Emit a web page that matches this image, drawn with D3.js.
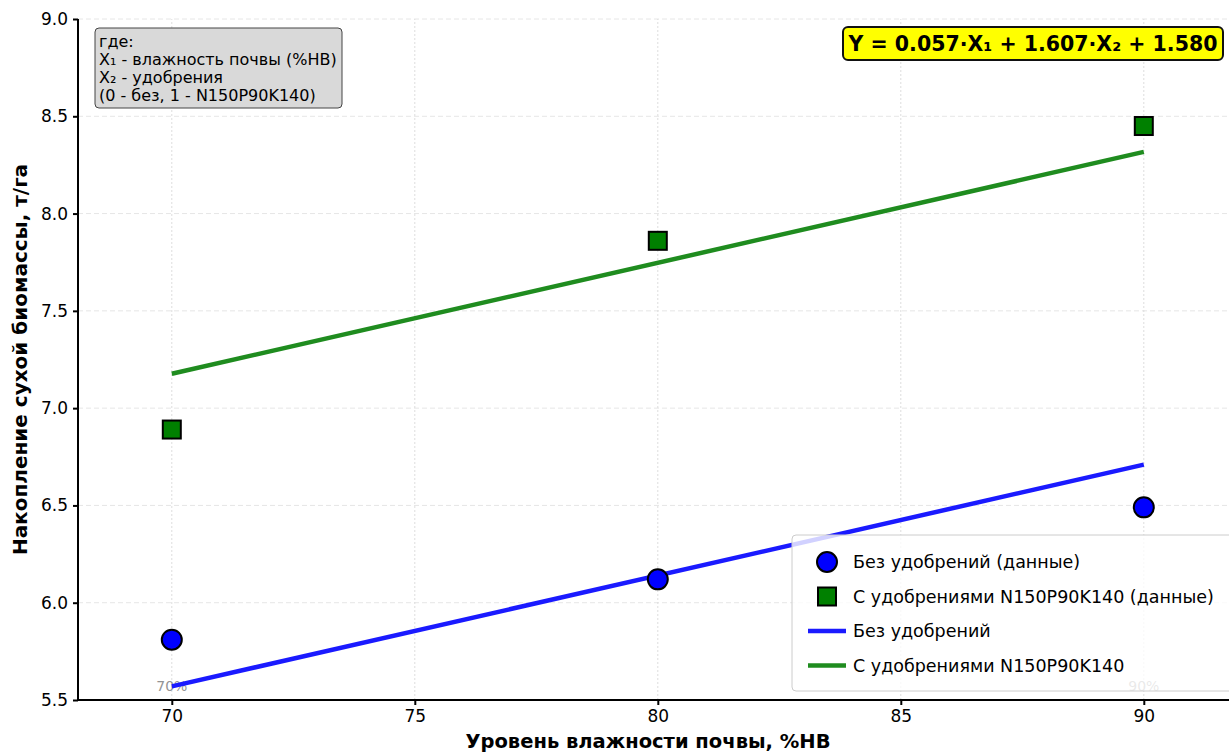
<!DOCTYPE html>
<html>
<head>
<meta charset="utf-8">
<script src="https://cdn.jsdelivr.net/npm/d3@7"></script>
<style>
  body { margin: 0; background: #fff; }
  svg { font-family: "DejaVu Sans", sans-serif; display: block; }
</style>
</head>
<body>
<div id="chart"></div>
<script>
// moisture levels, %НВ
const moisture = [70, 80, 90];
// measured dry biomass, t/ha
const noFert = [5.81, 6.12, 6.49];
const withFert = [6.89, 7.86, 8.45];
// regression line end points (X1 = 70 and 90)
const fitX = [70, 90];
const fitNoFert = [5.570, 6.710];
const fitWithFert = [7.177, 8.317];
const xTicks = [70, 75, 80, 85, 90];
const yTicks = [5.5, 6.0, 6.5, 7.0, 7.5, 8.0, 8.5, 9.0];
const pctLabels = [{ x: 70, text: '70%' }, { x: 90, text: '90%' }];
const notes = ['где:', 'X\u2081 - влажность почвы (%НВ)', 'X\u2082 - удобрения', '(0 - без, 1 - N150P90K140)'];
const equation = 'Y = 0.057\u00b7X\u2081 + 1.607\u00b7X\u2082 + 1.580';

const W = 1229, H = 753;
const margin = { top: 19, left: 78, bottom: 53 };

const svg = d3.select('#chart').append('svg')
  .attr('width', W).attr('height', H);

const x = d3.scaleLinear().domain([68.07, 92]).range([margin.left, 1241]);
const y = d3.scaleLinear().domain([5.5, 9.0]).range([H - margin.bottom, margin.top]);
const plotRight = x(92);

// grid
svg.append('g').selectAll('line').data(yTicks).enter().append('line')
  .attr('x1', margin.left).attr('x2', plotRight)
  .attr('y1', d => y(d)).attr('y2', d => y(d))
  .attr('stroke', '#e6e6e6').attr('stroke-width', 1).attr('stroke-dasharray', '5,3');
svg.append('g').selectAll('line').data(xTicks).enter().append('line')
  .attr('x1', d => x(d)).attr('x2', d => x(d))
  .attr('y1', y(5.5)).attr('y2', y(9.0))
  .attr('stroke', '#dddddd').attr('stroke-width', 1).attr('stroke-dasharray', '2,2');

// percent labels
svg.append('g').selectAll('text').data(pctLabels).enter().append('text')
  .attr('x', d => x(d.x)).attr('y', y(5.5) - 9)
  .attr('text-anchor', 'middle').attr('font-size', 14)
  .attr('fill', '#888').attr('opacity', 0.9)
  .text(d => d.text);

// regression lines
const line = d3.line().x(d => x(d[0])).y(d => y(d[1]));
svg.append('path').datum(d3.zip(fitX, fitNoFert))
  .attr('d', line).attr('fill', 'none').attr('stroke', '#1a1aff').attr('stroke-width', 4.5);
svg.append('path').datum(d3.zip(fitX, fitWithFert))
  .attr('d', line).attr('fill', 'none').attr('stroke', '#1f8c1f').attr('stroke-width', 4.5);

// data points
svg.append('g').selectAll('circle').data(d3.zip(moisture, noFert)).enter().append('circle')
  .attr('cx', d => x(d[0])).attr('cy', d => y(d[1])).attr('r', 10)
  .attr('fill', '#0000ff').attr('stroke', '#000').attr('stroke-width', 2);
svg.append('g').selectAll('rect').data(d3.zip(moisture, withFert)).enter().append('rect')
  .attr('x', d => x(d[0]) - 9).attr('y', d => y(d[1]) - 9)
  .attr('width', 18).attr('height', 18)
  .attr('fill', '#008000').attr('stroke', '#000').attr('stroke-width', 2);

// axes
const xAxis = svg.append('g').attr('transform', `translate(0,${y(5.5)})`)
  .call(d3.axisBottom(x).tickValues(xTicks).tickFormat(d3.format('d')).tickSize(5).tickPadding(5));
const yAxis = svg.append('g').attr('transform', `translate(${margin.left},0)`)
  .call(d3.axisLeft(y).tickValues(yTicks).tickFormat(d3.format('.1f')).tickSize(5).tickPadding(5));
[xAxis, yAxis].forEach(g => {
  g.select('.domain').attr('stroke', '#000').attr('stroke-width', 2);
  g.selectAll('.tick line').attr('stroke', '#000').attr('stroke-width', 2);
  g.selectAll('.tick text').attr('fill', '#000').attr('font-size', 17)
    .attr('font-family', '"DejaVu Sans", sans-serif');
});
xAxis.select('.domain').attr('d', `M${margin.left},0H${plotRight}`);
yAxis.select('.domain').attr('d', `M0,${y(5.5)}V${y(9.0)}`);

// axis titles
svg.append('text').attr('x', 648).attr('y', 748)
  .attr('text-anchor', 'middle').attr('font-size', 19.5).attr('font-weight', 'bold')
  .text('Уровень влажности почвы, %НВ');
svg.append('text').attr('transform', `translate(27,${(y(5.5) + y(9.0)) / 2}) rotate(-90)`)
  .attr('text-anchor', 'middle').attr('font-size', 20).attr('font-weight', 'bold')
  .text('Накопление сухой биомассы, т/га');

// notes box
svg.append('rect').attr('x', 95).attr('y', 28).attr('width', 247).attr('height', 80).attr('rx', 4)
  .attr('fill', '#d9d9d9').attr('stroke', '#444').attr('stroke-width', 1);
svg.append('g').selectAll('text').data(notes).enter().append('text')
  .attr('x', 99).attr('y', (d, i) => 47 + i * 18)
  .attr('font-size', 16).attr('fill', '#000').text(d => d);

// equation box
svg.append('rect').attr('x', 843).attr('y', 27).attr('width', 380).attr('height', 33).attr('rx', 5)
  .attr('fill', '#ffff00').attr('stroke', '#111').attr('stroke-width', 2);
svg.append('text').attr('x', 1033).attr('y', 51).attr('text-anchor', 'middle')
  .attr('font-size', 20.5).attr('font-weight', 'bold').text(equation);

// legend
const leg = svg.append('g');
leg.append('rect').attr('x', 792).attr('y', 535).attr('width', 450).attr('height', 156).attr('rx', 4)
  .attr('fill', '#fff').attr('fill-opacity', 0.8).attr('stroke', '#ccc').attr('stroke-width', 1);
const legItems = [
  { type: 'circle', color: '#0000ff', label: 'Без удобрений (данные)' },
  { type: 'square', color: '#008000', label: 'С удобрениями N150P90K140 (данные)' },
  { type: 'line', color: '#1a1aff', label: 'Без удобрений' },
  { type: 'line', color: '#1f8c1f', label: 'С удобрениями N150P90K140' }
];
legItems.forEach((it, i) => {
  const cy = 562 + i * 34.5;
  if (it.type === 'circle') {
    leg.append('circle').attr('cx', 827).attr('cy', cy).attr('r', 10)
      .attr('fill', it.color).attr('stroke', '#000').attr('stroke-width', 2);
  } else if (it.type === 'square') {
    leg.append('rect').attr('x', 818).attr('y', cy - 9).attr('width', 18).attr('height', 18)
      .attr('fill', it.color).attr('stroke', '#000').attr('stroke-width', 2);
  } else {
    leg.append('line').attr('x1', 808).attr('x2', 846).attr('y1', cy).attr('y2', cy)
      .attr('stroke', it.color).attr('stroke-width', 4.5);
  }
  leg.append('text').attr('x', 853).attr('y', cy + 6).attr('font-size', 17.5).text(it.label);
});
</script>
</body>
</html>
